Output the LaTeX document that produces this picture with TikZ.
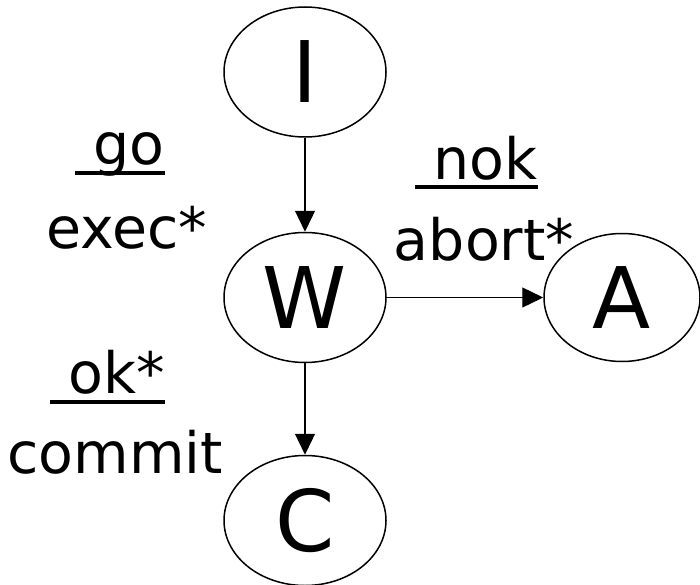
\documentclass[tikz,border=0pt]{standalone}
\usepackage{fontspec}
\setmainfont{DejaVu Sans}
\usetikzlibrary{shapes.geometric,arrows.meta}
\begin{document}
\begin{tikzpicture}[x=1pt,y=-1pt,
  state/.style={ellipse,draw,line width=1.5pt,inner sep=0pt,minimum width=162pt,minimum height=130pt,font=\fontsize{85}{100}\selectfont},
  lbl/.style={inner sep=0pt,font=\fontsize{57}{66}\selectfont},
  arr/.style={line width=1.3pt,-{Triangle[length=21pt,width=20pt]}},
  uline/.style={line width=3.5pt}]
\useasboundingbox (0,0) rectangle (700,585);
\node[state] (I) at (305,72) {I};
\node[state] (W) at (305,297.5) {W};
\node[state] (C) at (305,520.5) {C};
\node[state,minimum width=156pt,minimum height=128pt] (A) at (622,297.5) {A};
\draw[arr] (I) -- (W);
\draw[arr] (W) -- (C);
\draw[arr] (W) -- (A);
% labels
\node[lbl,anchor=base east] (go) at (165,165) {\ go};
\draw[uline] ([yshift=-8pt]go.base west) -- ([yshift=-8pt]go.base east);
\node[lbl,anchor=base] (exec) at (127,248) {exec*};
\node[lbl,anchor=base east] (ok) at (165,393) {\ ok*};
\draw[uline] ([yshift=-9pt]ok.base west) -- ([yshift=-9pt]ok.base east);
\node[lbl,anchor=base] (commit) at (115,473) {commit};
\node[lbl,anchor=base east] (nok) at (538,180) {\ nok};
\draw[uline] ([yshift=-7pt]nok.base west) -- ([yshift=-7pt]nok.base east);
\node[lbl,anchor=base] (abort) at (484,260) {abort*};
\end{tikzpicture}
\end{document}
